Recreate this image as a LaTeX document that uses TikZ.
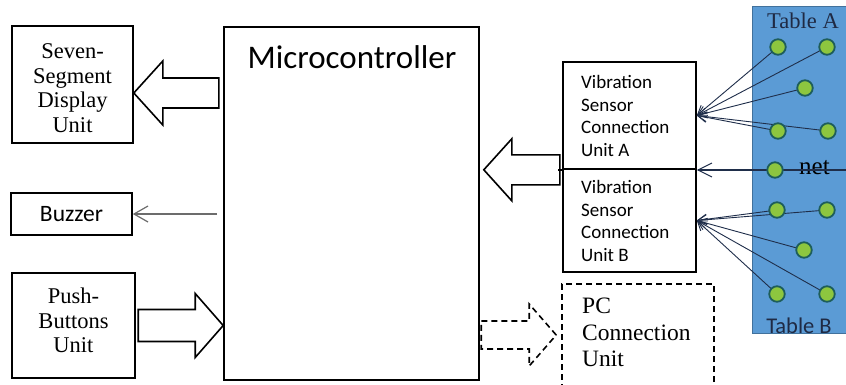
\documentclass[tikz,border=0pt]{standalone}
\usepackage{fontspec}
\setmainfont{Liberation Serif}
\newfontfamily\calfont{Carlito}
\usetikzlibrary{arrows.meta,calc}
\definecolor{tblblue}{HTML}{5B9BD5}
\definecolor{tblborder}{HTML}{41719C}
\definecolor{dotgreen}{HTML}{8DC63F}
\definecolor{dotedge}{HTML}{1E5E5A}
\definecolor{navy}{HTML}{1F2A44}
\definecolor{fanline}{HTML}{1F2E4A}
\begin{document}
\begin{tikzpicture}[x=1pt,y=-1pt,
  unitbox/.style={draw=black,line width=1.6pt,inner sep=0pt,fill=white},
  serifA/.style={font=\fontsize{22.5}{24.5}\selectfont,align=center,inner sep=0pt},
  blockarrow/.style={draw=black,line width=1.6pt,fill=white,line join=miter},
  thinarrow/.style={draw=gray!85!black,line width=1.2pt,-{Straight Barb[length=14pt,width=16pt,line width=1.2pt]}},
  netarrow/.style={draw=fanline,line width=1.3pt,-{Straight Barb[length=14pt,width=14pt,line width=1pt]}},
  fan/.style={draw=fanline,line width=0.9pt,-{Straight Barb[length=9pt,width=10pt,line width=0.9pt]}},
  dot/.style={circle,fill=dotgreen,draw=dotedge,line width=1.8pt,minimum size=15.5pt,inner sep=0pt},
  vibtext/.style={font=\calfont\fontsize{19}{22.5}\selectfont,align=left,inner sep=0pt,anchor=west}]
\clip (0,0) rectangle (846,384);
\fill[white] (0,0) rectangle (846,384);

% boxes
\node[unitbox,minimum width=121pt,minimum height=117pt] (seg) at (72.5,84.5) {};
\node[serifA] (segtext) at (72.5,88) {Seven-\\Segment\\Display\\Unit};
\node[unitbox,minimum width=121pt,minimum height=42pt,font=\calfont\fontsize{23.5}{26}\selectfont] (buzzer) at (71.5,214) {Buzzer};
\node[unitbox,minimum width=123pt,minimum height=105pt] (push) at (73.5,325.5) {};
\node[serifA] (pushtext) at (73.5,320.5) {Push-\\Buttons\\Unit};
\node[unitbox,minimum width=255pt,minimum height=353pt] (mc) at (351.5,203.5) {};
\node[font=\calfont\fontsize{33}{36}\selectfont,inner sep=0pt] (mclabel) at (352,57) {Microcontroller};
\node[unitbox,minimum width=133pt,minimum height=107pt] (va) at (629.5,115.5) {};
\node[unitbox,minimum width=133pt,minimum height=103pt] (vb) at (629.5,220.5) {};
\node[vibtext] (vatext) at (581,116) {Vibration\\Sensor\\Connection\\Unit A};
\node[vibtext] (vbtext) at (581,221) {Vibration\\Sensor\\Connection\\Unit B};
\node[draw=black,line width=1.6pt,dash pattern=on 6pt off 4pt,minimum width=152pt,minimum height=116pt,inner sep=0pt] (pc) at (638,342) {};
\node[font=\fontsize{23.5}{26.5}\selectfont,align=left,inner sep=0pt,anchor=north west] (pctext) at (582,298) {PC\\Connection\\Unit};

% table panel
\node[fill=tblblue,draw=tblborder,line width=1pt,minimum width=100pt,minimum height=327pt,inner sep=0pt] (table) at (802,169.5) {};
\node[font=\fontsize{22.5}{24}\selectfont,text=navy,inner sep=0pt,anchor=base] (tA) at (803,28) {Table A};
\node[font=\calfont\fontsize{22.5}{24}\selectfont,text=navy,inner sep=0pt,anchor=base] (tB) at (799,333) {Table B};

% block arrows
\draw[blockarrow] ($(seg.east)+(0,8.5)$) -- ++(29,-32) -- ++(0,17) -- ++(56,0) -- ++(0,30) -- ++(-56,0) -- ++(0,17) -- cycle;
\draw[blockarrow] (push.east -| mc.west) -- ++(-28,-32) -- ++(0,16) -- ++(-57,0) -- ++(0,32) -- ++(57,0) -- ++(0,16) -- cycle;
\draw[blockarrow] ($(va.south west -| mc.east)+(4,0)$) -- ++(28,-31) -- ++(0,16) -- ++(48,0) -- ++(0,30) -- ++(-48,0) -- ++(0,16) -- cycle;
\draw[line width=1.6pt] ($(va.south west)+(-4,0)$) -- (va.south west);
\draw[blockarrow,dash pattern=on 6pt off 4pt] ($(pc.west)+(-5,-7)$) -- ++(-27,-31) -- ++(0,17) -- ++(-48,0) -- ++(0,28) -- ++(48,0) -- ++(0,17) -- cycle;

% buzzer arrow
\draw[thinarrow] ($(buzzer.east -| mc.west)+(-6,0)$) -- (buzzer.east);

% sensor points
\coordinate (p1) at (778,47);
\coordinate (p2) at (827,47);
\coordinate (p3) at (805,88);
\coordinate (p4) at (778,131);
\coordinate (p5) at (828,131);
\coordinate (p6) at (775,170);
\coordinate (p7) at (777,210);
\coordinate (p8) at (827,210);
\coordinate (p9) at (804,250);
\coordinate (p10) at (777,294);
\coordinate (p11) at (827,294);
\coordinate (netend) at (846,170);

\foreach \p in {p1,p2,p3,p4,p5} \draw[fan] (\p) -- (va.east);
\foreach \p in {p7,p8,p9,p10,p11} \draw[fan] (\p) -- (vb.east);
\draw[netarrow] (netend) -- (netend -| va.east);

\foreach \p in {p1,p2,p3,p4,p5,p6,p7,p8,p9,p10,p11} \node[dot] (d\p) at (\p) {};
\node[font=\fontsize{25}{26}\selectfont,text=black,inner sep=0pt,anchor=base] (net) at (814.5,174) {net};
\draw[fanline,line width=1.3pt] (net.west |- netend) -- (net.east |- netend);
\end{tikzpicture}
\end{document}
